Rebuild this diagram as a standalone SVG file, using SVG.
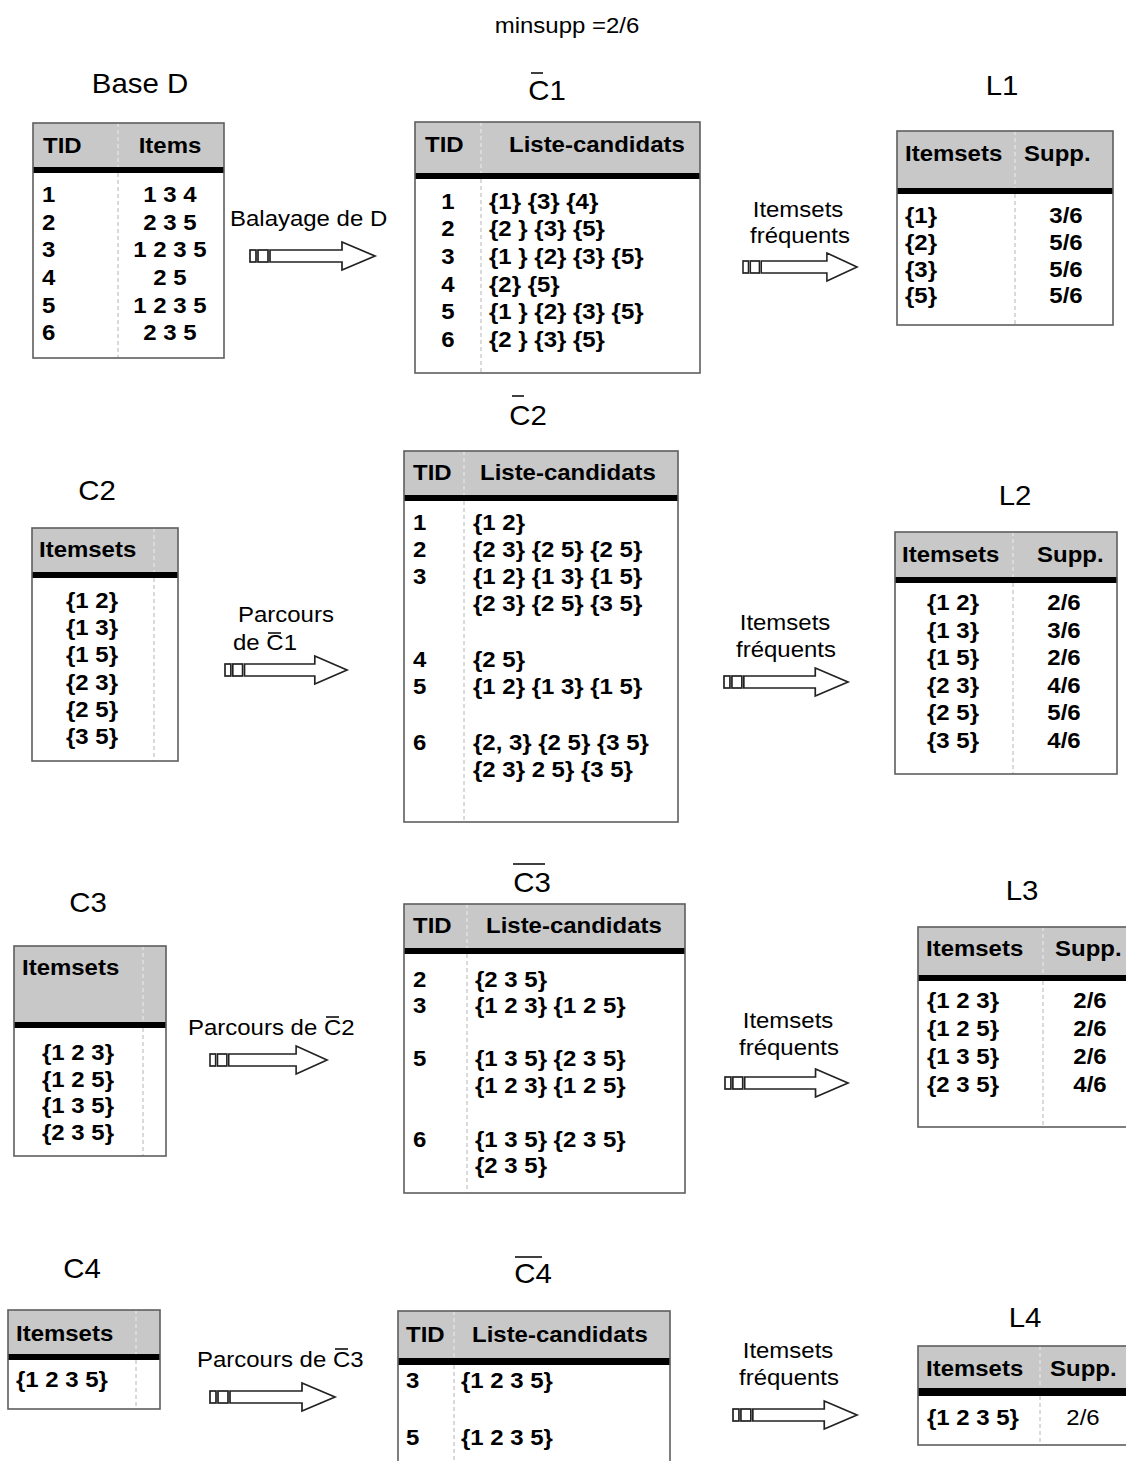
<svg xmlns="http://www.w3.org/2000/svg" xmlns:xlink="http://www.w3.org/1999/xlink" width="1126" height="1461" viewBox="0 0 1126 1461">
<style>
text { font-family: "Liberation Sans", Arial, sans-serif; fill:#000; }
.ti { font-size:27px; }
.b { font-size:22px; font-weight:bold; }
.lb { font-size:22px; }
.c { text-anchor:middle; }
.bg { fill:#fff; }
.bd { fill:none; stroke:#5e5e5e; stroke-width:1.6; }
.hd { fill:#c8c8c8; }
.bar { fill:#000; }
.dv { stroke:#b4b4b4; stroke-width:1; stroke-dasharray:4 3; }
.dvh { stroke:#ececec; stroke-width:1; stroke-dasharray:4 3; }
.ov { stroke:#000; stroke-width:1.5; }
.arr rect, .arr path { fill:#fff; stroke:#222; stroke-width:1.7; }
</style>
<defs>
<g id="arrow" class="arr">
<rect x="0" y="-6" width="6" height="12"/>
<rect x="8" y="-6" width="10" height="12"/>
<path d="M20,-6 H92 V-14 L125,0 L92,14 V6 H20 Z"/>
</g>
</defs>
<rect width="1126" height="1461" fill="#fff"/>

<text class="lb c" transform="matrix(1.09 0 0 1 567 33)">minsupp =2/6</text>

<!-- Base D -->
<g id="baseD">
<text class="ti c" transform="matrix(1.09 0 0 1 140 93)">Base D</text>
<rect class="bg" x="33" y="123" width="191" height="235"/>
<rect class="hd" x="33" y="123" width="191" height="44"/>
<rect class="bar" x="33" y="167" width="191" height="6"/>
<line class="dvh" x1="118" y1="123" x2="118" y2="167"/>
<line class="dv" x1="118" y1="173" x2="118" y2="358"/>
<rect class="bd" x="33" y="123" width="191" height="235"/>
<text class="b" transform="matrix(1.09 0 0 1 43 153)">TID</text>
<text class="b c" transform="matrix(1.09 0 0 1 170 153)">Items</text>
<text class="b" transform="matrix(1.09 0 0 1 42 202)">1</text>
<text class="b" transform="matrix(1.09 0 0 1 42 230)">2</text>
<text class="b" transform="matrix(1.09 0 0 1 42 257)">3</text>
<text class="b" transform="matrix(1.09 0 0 1 42 285)">4</text>
<text class="b" transform="matrix(1.09 0 0 1 42 313)">5</text>
<text class="b" transform="matrix(1.09 0 0 1 42 340)">6</text>
<text class="b c" transform="matrix(1.09 0 0 1 170 202)">1 3 4</text>
<text class="b c" transform="matrix(1.09 0 0 1 170 230)">2 3 5</text>
<text class="b c" transform="matrix(1.09 0 0 1 170 257)">1 2 3 5</text>
<text class="b c" transform="matrix(1.09 0 0 1 170 285)">2 5</text>
<text class="b c" transform="matrix(1.09 0 0 1 170 313)">1 2 3 5</text>
<text class="b c" transform="matrix(1.09 0 0 1 170 340)">2 3 5</text>
</g>

<!-- C1 bar -->
<g id="C1bar">
<text class="ti c" transform="matrix(1.09 0 0 1 547 100)">C1</text>
<line class="ov" x1="531" y1="73" x2="543" y2="73"/>
<rect class="bg" x="415" y="122" width="285" height="251"/>
<rect class="hd" x="415" y="122" width="285" height="51"/>
<rect class="bar" x="415" y="173" width="285" height="6"/>
<line class="dvh" x1="481" y1="122" x2="481" y2="173"/>
<line class="dv" x1="481" y1="179" x2="481" y2="373"/>
<rect class="bd" x="415" y="122" width="285" height="251"/>
<text class="b" transform="matrix(1.09 0 0 1 425 152)">TID</text>
<text class="b" transform="matrix(1.09 0 0 1 509 152)">Liste-candidats</text>
<text class="b c" transform="matrix(1.09 0 0 1 448 209)">1</text>
<text class="b c" transform="matrix(1.09 0 0 1 448 236)">2</text>
<text class="b c" transform="matrix(1.09 0 0 1 448 264)">3</text>
<text class="b c" transform="matrix(1.09 0 0 1 448 292)">4</text>
<text class="b c" transform="matrix(1.09 0 0 1 448 319)">5</text>
<text class="b c" transform="matrix(1.09 0 0 1 448 347)">6</text>
<text class="b" transform="matrix(1.09 0 0 1 489 209)">{1} {3} {4}</text>
<text class="b" transform="matrix(1.09 0 0 1 489 236)">{2 } {3} {5}</text>
<text class="b" transform="matrix(1.09 0 0 1 489 264)">{1 } {2} {3} {5}</text>
<text class="b" transform="matrix(1.09 0 0 1 489 292)">{2} {5}</text>
<text class="b" transform="matrix(1.09 0 0 1 489 319)">{1 } {2} {3} {5}</text>
<text class="b" transform="matrix(1.09 0 0 1 489 347)">{2 } {3} {5}</text>
</g>

<!-- L1 -->
<g id="L1">
<text class="ti c" transform="matrix(1.09 0 0 1 1002 95)">L1</text>
<rect class="bg" x="897" y="131" width="216" height="194"/>
<rect class="hd" x="897" y="131" width="216" height="57"/>
<rect class="bar" x="897" y="188" width="216" height="6"/>
<line class="dvh" x1="1015" y1="131" x2="1015" y2="188"/>
<line class="dv" x1="1015" y1="194" x2="1015" y2="325"/>
<rect class="bd" x="897" y="131" width="216" height="194"/>
<text class="b" transform="matrix(1.09 0 0 1 905 161)">Itemsets</text>
<text class="b" transform="matrix(1.09 0 0 1 1024 161)">Supp.</text>
<text class="b" transform="matrix(1.09 0 0 1 905 223)">{1}</text>
<text class="b" transform="matrix(1.09 0 0 1 905 250)">{2}</text>
<text class="b" transform="matrix(1.09 0 0 1 905 277)">{3}</text>
<text class="b" transform="matrix(1.09 0 0 1 905 303)">{5}</text>
<text class="b c" transform="matrix(1.09 0 0 1 1066 223)">3/6</text>
<text class="b c" transform="matrix(1.09 0 0 1 1066 250)">5/6</text>
<text class="b c" transform="matrix(1.09 0 0 1 1066 277)">5/6</text>
<text class="b c" transform="matrix(1.09 0 0 1 1066 303)">5/6</text>
</g>

<!-- C2 -->
<g id="C2">
<text class="ti c" transform="matrix(1.09 0 0 1 97 500)">C2</text>
<rect class="bg" x="32" y="528" width="146" height="233"/>
<rect class="hd" x="32" y="528" width="146" height="44"/>
<rect class="bar" x="32" y="572" width="146" height="6"/>
<line class="dvh" x1="154" y1="528" x2="154" y2="572"/>
<line class="dv" x1="154" y1="578" x2="154" y2="761"/>
<rect class="bd" x="32" y="528" width="146" height="233"/>
<text class="b" transform="matrix(1.09 0 0 1 39 557)">Itemsets</text>
<text class="b c" transform="matrix(1.09 0 0 1 92 608)">{1 2}</text>
<text class="b c" transform="matrix(1.09 0 0 1 92 635)">{1 3}</text>
<text class="b c" transform="matrix(1.09 0 0 1 92 662)">{1 5}</text>
<text class="b c" transform="matrix(1.09 0 0 1 92 690)">{2 3}</text>
<text class="b c" transform="matrix(1.09 0 0 1 92 717)">{2 5}</text>
<text class="b c" transform="matrix(1.09 0 0 1 92 744)">{3 5}</text>
</g>

<!-- C2 bar -->
<g id="C2bar">
<text class="ti c" transform="matrix(1.09 0 0 1 528 425)">C2</text>
<line class="ov" x1="512" y1="396" x2="524" y2="396"/>
<rect class="bg" x="404" y="451" width="274" height="371"/>
<rect class="hd" x="404" y="451" width="274" height="44"/>
<rect class="bar" x="404" y="495" width="274" height="6"/>
<line class="dvh" x1="464" y1="451" x2="464" y2="495"/>
<line class="dv" x1="464" y1="501" x2="464" y2="822"/>
<rect class="bd" x="404" y="451" width="274" height="371"/>
<text class="b" transform="matrix(1.09 0 0 1 413 480)">TID</text>
<text class="b" transform="matrix(1.09 0 0 1 480 480)">Liste-candidats</text>
<text class="b" transform="matrix(1.09 0 0 1 413 530)">1</text>
<text class="b" transform="matrix(1.09 0 0 1 413 557)">2</text>
<text class="b" transform="matrix(1.09 0 0 1 413 584)">3</text>
<text class="b" transform="matrix(1.09 0 0 1 413 667)">4</text>
<text class="b" transform="matrix(1.09 0 0 1 413 694)">5</text>
<text class="b" transform="matrix(1.09 0 0 1 413 750)">6</text>
<text class="b" transform="matrix(1.09 0 0 1 473 530)">{1 2}</text>
<text class="b" transform="matrix(1.09 0 0 1 473 557)">{2 3} {2 5} {2 5}</text>
<text class="b" transform="matrix(1.09 0 0 1 473 584)">{1 2} {1 3} {1 5}</text>
<text class="b" transform="matrix(1.09 0 0 1 473 611)">{2 3} {2 5} {3 5}</text>
<text class="b" transform="matrix(1.09 0 0 1 473 667)">{2 5}</text>
<text class="b" transform="matrix(1.09 0 0 1 473 694)">{1 2} {1 3} {1 5}</text>
<text class="b" transform="matrix(1.09 0 0 1 473 750)">{2, 3} {2 5} {3 5}</text>
<text class="b" transform="matrix(1.09 0 0 1 473 777)">{2 3} 2 5} {3 5}</text>
</g>

<!-- L2 -->
<g id="L2">
<text class="ti c" transform="matrix(1.09 0 0 1 1015 505)">L2</text>
<rect class="bg" x="895" y="532" width="222" height="242"/>
<rect class="hd" x="895" y="532" width="222" height="45"/>
<rect class="bar" x="895" y="577" width="222" height="6"/>
<line class="dvh" x1="1013" y1="532" x2="1013" y2="577"/>
<line class="dv" x1="1013" y1="583" x2="1013" y2="774"/>
<rect class="bd" x="895" y="532" width="222" height="242"/>
<text class="b" transform="matrix(1.09 0 0 1 902 562)">Itemsets</text>
<text class="b" transform="matrix(1.09 0 0 1 1037 562)">Supp.</text>
<text class="b c" transform="matrix(1.09 0 0 1 953 610)">{1 2}</text>
<text class="b c" transform="matrix(1.09 0 0 1 953 638)">{1 3}</text>
<text class="b c" transform="matrix(1.09 0 0 1 953 665)">{1 5}</text>
<text class="b c" transform="matrix(1.09 0 0 1 953 693)">{2 3}</text>
<text class="b c" transform="matrix(1.09 0 0 1 953 720)">{2 5}</text>
<text class="b c" transform="matrix(1.09 0 0 1 953 748)">{3 5}</text>
<text class="b c" transform="matrix(1.09 0 0 1 1064 610)">2/6</text>
<text class="b c" transform="matrix(1.09 0 0 1 1064 638)">3/6</text>
<text class="b c" transform="matrix(1.09 0 0 1 1064 665)">2/6</text>
<text class="b c" transform="matrix(1.09 0 0 1 1064 693)">4/6</text>
<text class="b c" transform="matrix(1.09 0 0 1 1064 720)">5/6</text>
<text class="b c" transform="matrix(1.09 0 0 1 1064 748)">4/6</text>
</g>

<!-- C3 -->
<g id="C3">
<text class="ti c" transform="matrix(1.09 0 0 1 88 912)">C3</text>
<rect class="bg" x="14" y="946" width="152" height="210"/>
<rect class="hd" x="14" y="946" width="152" height="76"/>
<rect class="bar" x="14" y="1022" width="152" height="6"/>
<line class="dvh" x1="143" y1="946" x2="143" y2="1022"/>
<line class="dv" x1="143" y1="1028" x2="143" y2="1156"/>
<rect class="bd" x="14" y="946" width="152" height="210"/>
<text class="b" transform="matrix(1.09 0 0 1 22 975)">Itemsets</text>
<text class="b c" transform="matrix(1.09 0 0 1 78 1060)">{1 2 3}</text>
<text class="b c" transform="matrix(1.09 0 0 1 78 1087)">{1 2 5}</text>
<text class="b c" transform="matrix(1.09 0 0 1 78 1113)">{1 3 5}</text>
<text class="b c" transform="matrix(1.09 0 0 1 78 1140)">{2 3 5}</text>
</g>

<!-- C3 bar -->
<g id="C3bar">
<text class="ti c" transform="matrix(1.09 0 0 1 532 892)">C3</text>
<line class="ov" x1="513" y1="864" x2="545" y2="864"/>
<rect class="bg" x="404" y="904" width="281" height="289"/>
<rect class="hd" x="404" y="904" width="281" height="44"/>
<rect class="bar" x="404" y="948" width="281" height="6"/>
<line class="dvh" x1="467" y1="904" x2="467" y2="948"/>
<line class="dv" x1="467" y1="954" x2="467" y2="1193"/>
<rect class="bd" x="404" y="904" width="281" height="289"/>
<text class="b" transform="matrix(1.09 0 0 1 413 933)">TID</text>
<text class="b" transform="matrix(1.09 0 0 1 486 933)">Liste-candidats</text>
<text class="b" transform="matrix(1.09 0 0 1 413 987)">2</text>
<text class="b" transform="matrix(1.09 0 0 1 413 1013)">3</text>
<text class="b" transform="matrix(1.09 0 0 1 413 1066)">5</text>
<text class="b" transform="matrix(1.09 0 0 1 413 1147)">6</text>
<text class="b" transform="matrix(1.09 0 0 1 475 987)">{2 3 5}</text>
<text class="b" transform="matrix(1.09 0 0 1 475 1013)">{1 2 3} {1 2 5}</text>
<text class="b" transform="matrix(1.09 0 0 1 475 1066)">{1 3 5} {2 3 5}</text>
<text class="b" transform="matrix(1.09 0 0 1 475 1093)">{1 2 3} {1 2 5}</text>
<text class="b" transform="matrix(1.09 0 0 1 475 1147)">{1 3 5} {2 3 5}</text>
<text class="b" transform="matrix(1.09 0 0 1 475 1173)">{2 3 5}</text>
</g>

<!-- L3 -->
<g id="L3">
<text class="ti c" transform="matrix(1.09 0 0 1 1022 900)">L3</text>
<rect class="bg" x="918" y="927" width="222" height="200"/>
<rect class="hd" x="918" y="927" width="222" height="48"/>
<rect class="bar" x="918" y="975" width="222" height="6"/>
<line class="dvh" x1="1043" y1="927" x2="1043" y2="975"/>
<line class="dv" x1="1043" y1="981" x2="1043" y2="1127"/>
<rect class="bd" x="918" y="927" width="222" height="200"/>
<text class="b" transform="matrix(1.09 0 0 1 926 956)">Itemsets</text>
<text class="b" transform="matrix(1.09 0 0 1 1055 956)">Supp.</text>
<text class="b" transform="matrix(1.09 0 0 1 927 1008)">{1 2 3}</text>
<text class="b" transform="matrix(1.09 0 0 1 927 1036)">{1 2 5}</text>
<text class="b" transform="matrix(1.09 0 0 1 927 1064)">{1 3 5}</text>
<text class="b" transform="matrix(1.09 0 0 1 927 1092)">{2 3 5}</text>
<text class="b c" transform="matrix(1.09 0 0 1 1090 1008)">2/6</text>
<text class="b c" transform="matrix(1.09 0 0 1 1090 1036)">2/6</text>
<text class="b c" transform="matrix(1.09 0 0 1 1090 1064)">2/6</text>
<text class="b c" transform="matrix(1.09 0 0 1 1090 1092)">4/6</text>
</g>

<!-- C4 -->
<g id="C4">
<text class="ti c" transform="matrix(1.09 0 0 1 82 1278)">C4</text>
<rect class="bg" x="8" y="1310" width="152" height="99"/>
<rect class="hd" x="8" y="1310" width="152" height="44"/>
<rect class="bar" x="8" y="1354" width="152" height="6"/>
<line class="dvh" x1="136" y1="1310" x2="136" y2="1354"/>
<line class="dv" x1="136" y1="1360" x2="136" y2="1409"/>
<rect class="bd" x="8" y="1310" width="152" height="99"/>
<text class="b" transform="matrix(1.09 0 0 1 16 1341)">Itemsets</text>
<text class="b" transform="matrix(1.09 0 0 1 16 1387)">{1 2 3 5}</text>
</g>

<!-- C4 bar -->
<g id="C4bar">
<text class="ti c" transform="matrix(1.09 0 0 1 533 1283)">C4</text>
<line class="ov" x1="515" y1="1257" x2="542" y2="1257"/>
<rect class="bg" x="398" y="1311" width="272" height="165"/>
<rect class="hd" x="398" y="1311" width="272" height="47"/>
<rect class="bar" x="398" y="1358" width="272" height="7"/>
<line class="dvh" x1="454" y1="1311" x2="454" y2="1358"/>
<line class="dv" x1="454" y1="1365" x2="454" y2="1476"/>
<rect class="bd" x="398" y="1311" width="272" height="165"/>
<text class="b" transform="matrix(1.09 0 0 1 406 1342)">TID</text>
<text class="b" transform="matrix(1.09 0 0 1 472 1342)">Liste-candidats</text>
<text class="b" transform="matrix(1.09 0 0 1 406 1388)">3</text>
<text class="b" transform="matrix(1.09 0 0 1 406 1445)">5</text>
<text class="b" transform="matrix(1.09 0 0 1 461 1388)">{1 2 3 5}</text>
<text class="b" transform="matrix(1.09 0 0 1 461 1445)">{1 2 3 5}</text>
</g>

<!-- L4 -->
<g id="L4">
<text class="ti c" transform="matrix(1.09 0 0 1 1025 1327)">L4</text>
<rect class="bg" x="918" y="1346" width="222" height="99"/>
<rect class="hd" x="918" y="1346" width="222" height="42"/>
<rect class="bar" x="918" y="1388" width="222" height="8"/>
<line class="dvh" x1="1040" y1="1346" x2="1040" y2="1388"/>
<line class="dv" x1="1040" y1="1396" x2="1040" y2="1445"/>
<rect class="bd" x="918" y="1346" width="222" height="99"/>
<text class="b" transform="matrix(1.09 0 0 1 926 1376)">Itemsets</text>
<text class="b" transform="matrix(1.09 0 0 1 1050 1376)">Supp.</text>
<text class="b" transform="matrix(1.09 0 0 1 927 1425)">{1 2 3 5}</text>
<text class="lb c" transform="matrix(1.09 0 0 1 1083 1425)">2/6</text>
</g>

<!-- connectors -->
<g id="connectors">
<use xlink:href="#arrow" transform="translate(250,256)"/>
<text class="lb" transform="matrix(1.09 0 0 1 230 226)">Balayage de D</text>

<use xlink:href="#arrow" transform="translate(743,267) scale(0.912,1)"/>
<text class="lb c" transform="matrix(1.09 0 0 1 798 217)">Itemsets</text>
<text class="lb c" transform="matrix(1.09 0 0 1 800 243)">fréquents</text>

<use xlink:href="#arrow" transform="translate(225,670) scale(0.976,1)"/>
<text class="lb" transform="matrix(1.09 0 0 1 238 622)">Parcours</text>
<text class="lb" transform="matrix(1.09 0 0 1 233 650)">de C1</text>
<line class="ov" x1="268" y1="633" x2="281" y2="633"/>

<use xlink:href="#arrow" transform="translate(724,682) scale(0.992,1)"/>
<text class="lb c" transform="matrix(1.09 0 0 1 785 630)">Itemsets</text>
<text class="lb c" transform="matrix(1.09 0 0 1 786 657)">fréquents</text>

<use xlink:href="#arrow" transform="translate(210,1060) scale(0.936,1)"/>
<text class="lb" transform="matrix(1.09 0 0 1 188 1035)">Parcours de C2</text>
<line class="ov" x1="326" y1="1017" x2="339" y2="1017"/>

<use xlink:href="#arrow" transform="translate(725,1083) scale(0.984,1)"/>
<text class="lb c" transform="matrix(1.09 0 0 1 788 1028)">Itemsets</text>
<text class="lb c" transform="matrix(1.09 0 0 1 789 1055)">fréquents</text>

<use xlink:href="#arrow" transform="translate(210,1397)"/>
<text class="lb" transform="matrix(1.09 0 0 1 197 1367)">Parcours de C3</text>
<line class="ov" x1="335" y1="1349" x2="348" y2="1349"/>

<use xlink:href="#arrow" transform="translate(733,1415) scale(0.992,1)"/>
<text class="lb c" transform="matrix(1.09 0 0 1 788 1358)">Itemsets</text>
<text class="lb c" transform="matrix(1.09 0 0 1 789 1385)">fréquents</text>
</g>
</svg>
